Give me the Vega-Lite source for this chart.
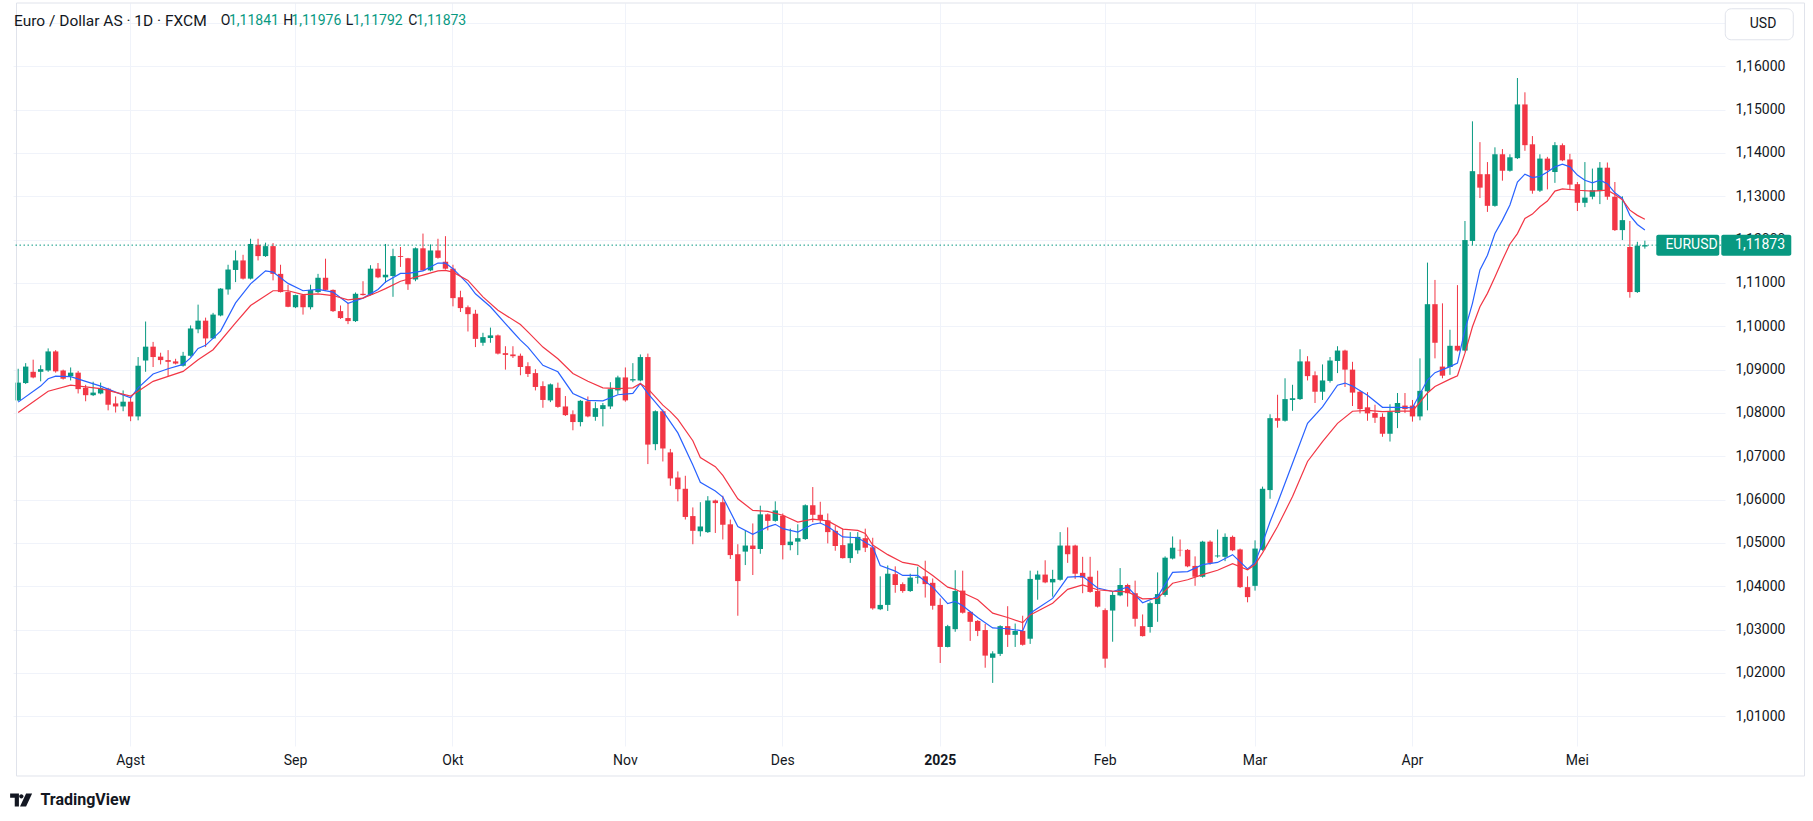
{
  "$schema": "https://vega.github.io/schema/vega-lite/v6.json",
  "width": 1712,
  "height": 743,
  "autosize": "none",
  "padding": {"left": 13, "top": 3, "right": 88, "bottom": 75},
  "background": "#ffffff",
  "config": {
    "font": "Roboto",
    "locale": {"number": {"decimal": ",", "thousands": ".", "grouping": [3], "currency": ["", ""]}},
    "view": {"stroke": null},
    "text": {"font": "Roboto"}
  },
  "datasets": {
    "hdr": [
      {"name": "Euro / Dollar AS · 1D · FXCM", "sym": "EURUSD", "cur": "USD", "brand": "TradingView", "o": 1.11841, "h": 1.11976, "l": 1.11792, "c": 1.11873}
    ],
    "bars": [
      {"d":"2024-07-11","o":1.0829,"h":1.0902,"l":1.0827,"c":1.0870},
      {"d":"2024-07-12","o":1.0869,"h":1.0915,"l":1.0867,"c":1.0907},
      {"d":"2024-07-15","o":1.0895,"h":1.0923,"l":1.0880,"c":1.0882},
      {"d":"2024-07-16","o":1.0895,"h":1.0910,"l":1.0873,"c":1.0901},
      {"d":"2024-07-17","o":1.0898,"h":1.0949,"l":1.0895,"c":1.0942},
      {"d":"2024-07-18","o":1.0942,"h":1.0945,"l":1.0893,"c":1.0896},
      {"d":"2024-07-19","o":1.0898,"h":1.0900,"l":1.0877,"c":1.0879},
      {"d":"2024-07-22","o":1.0885,"h":1.0905,"l":1.0875,"c":1.0893},
      {"d":"2024-07-23","o":1.0893,"h":1.0897,"l":1.0845,"c":1.0855},
      {"d":"2024-07-24","o":1.0858,"h":1.0865,"l":1.0827,"c":1.0841},
      {"d":"2024-07-25","o":1.0841,"h":1.0872,"l":1.0839,"c":1.0847},
      {"d":"2024-07-26","o":1.0845,"h":1.0870,"l":1.0843,"c":1.0857},
      {"d":"2024-07-29","o":1.0856,"h":1.0858,"l":1.0806,"c":1.0819},
      {"d":"2024-07-30","o":1.0822,"h":1.0838,"l":1.0801,"c":1.0815},
      {"d":"2024-07-31","o":1.0815,"h":1.0852,"l":1.0804,"c":1.0826},
      {"d":"2024-08-01","o":1.0826,"h":1.0838,"l":1.0781,"c":1.0792},
      {"d":"2024-08-02","o":1.0792,"h":1.0929,"l":1.0783,"c":1.0909},
      {"d":"2024-08-05","o":1.0921,"h":1.1011,"l":1.0895,"c":1.0953},
      {"d":"2024-08-06","o":1.0953,"h":1.0964,"l":1.0906,"c":1.0929},
      {"d":"2024-08-07","o":1.0930,"h":1.0939,"l":1.0912,"c":1.0922},
      {"d":"2024-08-08","o":1.0922,"h":1.0945,"l":1.0885,"c":1.0918},
      {"d":"2024-08-09","o":1.0919,"h":1.0925,"l":1.0912,"c":1.0914},
      {"d":"2024-08-12","o":1.0909,"h":1.0941,"l":1.0907,"c":1.0932},
      {"d":"2024-08-13","o":1.0932,"h":1.1002,"l":1.0930,"c":1.0995},
      {"d":"2024-08-14","o":1.0993,"h":1.1050,"l":1.0984,"c":1.1013},
      {"d":"2024-08-15","o":1.1013,"h":1.1020,"l":1.0952,"c":1.0972},
      {"d":"2024-08-16","o":1.0972,"h":1.1031,"l":1.0971,"c":1.1027},
      {"d":"2024-08-19","o":1.1025,"h":1.1088,"l":1.1023,"c":1.1087},
      {"d":"2024-08-20","o":1.1085,"h":1.1142,"l":1.1073,"c":1.1131},
      {"d":"2024-08-21","o":1.1130,"h":1.1175,"l":1.1102,"c":1.1152},
      {"d":"2024-08-22","o":1.1152,"h":1.1165,"l":1.1108,"c":1.1110},
      {"d":"2024-08-23","o":1.1110,"h":1.1202,"l":1.1108,"c":1.1190},
      {"d":"2024-08-26","o":1.1188,"h":1.1202,"l":1.1152,"c":1.1162},
      {"d":"2024-08-27","o":1.1162,"h":1.1193,"l":1.1160,"c":1.1185},
      {"d":"2024-08-28","o":1.1185,"h":1.1192,"l":1.1106,"c":1.1121},
      {"d":"2024-08-29","o":1.1121,"h":1.1142,"l":1.1078,"c":1.1079},
      {"d":"2024-08-30","o":1.1079,"h":1.1096,"l":1.1044,"c":1.1045},
      {"d":"2024-09-02","o":1.1044,"h":1.1073,"l":1.1042,"c":1.1072},
      {"d":"2024-09-03","o":1.1072,"h":1.1073,"l":1.1027,"c":1.1044},
      {"d":"2024-09-04","o":1.1044,"h":1.1096,"l":1.1039,"c":1.1084},
      {"d":"2024-09-05","o":1.1079,"h":1.1121,"l":1.1077,"c":1.1112},
      {"d":"2024-09-06","o":1.1112,"h":1.1156,"l":1.1082,"c":1.1084},
      {"d":"2024-09-09","o":1.1084,"h":1.1085,"l":1.1033,"c":1.1035},
      {"d":"2024-09-10","o":1.1035,"h":1.1048,"l":1.1017,"c":1.1019},
      {"d":"2024-09-11","o":1.1019,"h":1.1054,"l":1.1005,"c":1.1012},
      {"d":"2024-09-12","o":1.1012,"h":1.1078,"l":1.1010,"c":1.1075},
      {"d":"2024-09-13","o":1.1075,"h":1.1104,"l":1.1071,"c":1.1072},
      {"d":"2024-09-16","o":1.1073,"h":1.1141,"l":1.1071,"c":1.1133},
      {"d":"2024-09-17","o":1.1133,"h":1.1146,"l":1.1111,"c":1.1113},
      {"d":"2024-09-18","o":1.1113,"h":1.1190,"l":1.1100,"c":1.1119},
      {"d":"2024-09-19","o":1.1116,"h":1.1179,"l":1.1068,"c":1.1162},
      {"d":"2024-09-20","o":1.1162,"h":1.1183,"l":1.1137,"c":1.1160},
      {"d":"2024-09-23","o":1.1157,"h":1.1158,"l":1.1084,"c":1.1097},
      {"d":"2024-09-24","o":1.1108,"h":1.1182,"l":1.1104,"c":1.1180},
      {"d":"2024-09-25","o":1.1180,"h":1.1214,"l":1.1128,"c":1.1129},
      {"d":"2024-09-26","o":1.1129,"h":1.1189,"l":1.1127,"c":1.1175},
      {"d":"2024-09-27","o":1.1175,"h":1.1202,"l":1.1156,"c":1.1158},
      {"d":"2024-09-30","o":1.1149,"h":1.1208,"l":1.1131,"c":1.1133},
      {"d":"2024-10-01","o":1.1133,"h":1.1142,"l":1.1046,"c":1.1065},
      {"d":"2024-10-02","o":1.1067,"h":1.1082,"l":1.1033,"c":1.1042},
      {"d":"2024-10-03","o":1.1044,"h":1.1048,"l":1.0988,"c":1.1028},
      {"d":"2024-10-04","o":1.1029,"h":1.1038,"l":1.0952,"c":1.0971},
      {"d":"2024-10-07","o":1.0962,"h":1.0985,"l":1.0955,"c":1.0975},
      {"d":"2024-10-08","o":1.0973,"h":1.0997,"l":1.0962,"c":1.0979},
      {"d":"2024-10-09","o":1.0979,"h":1.0981,"l":1.0935,"c":1.0937},
      {"d":"2024-10-10","o":1.0938,"h":1.0954,"l":1.0900,"c":1.0934},
      {"d":"2024-10-11","o":1.0935,"h":1.0954,"l":1.0927,"c":1.0931},
      {"d":"2024-10-14","o":1.0932,"h":1.0937,"l":1.0887,"c":1.0906},
      {"d":"2024-10-15","o":1.0908,"h":1.0917,"l":1.0883,"c":1.0890},
      {"d":"2024-10-16","o":1.0892,"h":1.0901,"l":1.0852,"c":1.0860},
      {"d":"2024-10-17","o":1.0862,"h":1.0873,"l":1.0812,"c":1.0830},
      {"d":"2024-10-18","o":1.0829,"h":1.0868,"l":1.0825,"c":1.0866},
      {"d":"2024-10-21","o":1.0858,"h":1.0870,"l":1.0812,"c":1.0814},
      {"d":"2024-10-22","o":1.0815,"h":1.0839,"l":1.0793,"c":1.0795},
      {"d":"2024-10-23","o":1.0797,"h":1.0806,"l":1.0760,"c":1.0779},
      {"d":"2024-10-24","o":1.0779,"h":1.0830,"l":1.0769,"c":1.0828},
      {"d":"2024-10-25","o":1.0827,"h":1.0838,"l":1.0790,"c":1.0792},
      {"d":"2024-10-28","o":1.0791,"h":1.0825,"l":1.0782,"c":1.0811},
      {"d":"2024-10-29","o":1.0809,"h":1.0823,"l":1.0769,"c":1.0818},
      {"d":"2024-10-30","o":1.0815,"h":1.0871,"l":1.0809,"c":1.0855},
      {"d":"2024-10-31","o":1.0852,"h":1.0886,"l":1.0843,"c":1.0882},
      {"d":"2024-11-01","o":1.0882,"h":1.0905,"l":1.0826,"c":1.0829},
      {"d":"2024-11-04","o":1.0875,"h":1.0915,"l":1.0871,"c":1.0878},
      {"d":"2024-11-05","o":1.0875,"h":1.0935,"l":1.0873,"c":1.0929},
      {"d":"2024-11-06","o":1.0929,"h":1.0937,"l":1.0682,"c":1.0727},
      {"d":"2024-11-07","o":1.0728,"h":1.0806,"l":1.0714,"c":1.0804},
      {"d":"2024-11-08","o":1.0804,"h":1.0808,"l":1.0688,"c":1.0718},
      {"d":"2024-11-11","o":1.0709,"h":1.0717,"l":1.0632,"c":1.0649},
      {"d":"2024-11-12","o":1.0651,"h":1.0665,"l":1.0596,"c":1.0624},
      {"d":"2024-11-13","o":1.0625,"h":1.0655,"l":1.0554,"c":1.0560},
      {"d":"2024-11-14","o":1.0562,"h":1.0582,"l":1.0497,"c":1.0528},
      {"d":"2024-11-15","o":1.0527,"h":1.0594,"l":1.0515,"c":1.0538},
      {"d":"2024-11-18","o":1.0525,"h":1.0608,"l":1.0523,"c":1.0598},
      {"d":"2024-11-19","o":1.0598,"h":1.0600,"l":1.0523,"c":1.0592},
      {"d":"2024-11-20","o":1.0594,"h":1.0609,"l":1.0508,"c":1.0542},
      {"d":"2024-11-21","o":1.0543,"h":1.0554,"l":1.0463,"c":1.0472},
      {"d":"2024-11-22","o":1.0474,"h":1.0497,"l":1.0332,"c":1.0412},
      {"d":"2024-11-25","o":1.0480,"h":1.0528,"l":1.0449,"c":1.0494},
      {"d":"2024-11-26","o":1.0494,"h":1.0545,"l":1.0426,"c":1.0486},
      {"d":"2024-11-27","o":1.0486,"h":1.0586,"l":1.0475,"c":1.0566},
      {"d":"2024-11-28","o":1.0566,"h":1.0568,"l":1.0529,"c":1.0551},
      {"d":"2024-11-29","o":1.0551,"h":1.0596,"l":1.0549,"c":1.0575},
      {"d":"2024-12-02","o":1.0563,"h":1.0568,"l":1.0462,"c":1.0495},
      {"d":"2024-12-03","o":1.0495,"h":1.0533,"l":1.0483,"c":1.0503},
      {"d":"2024-12-04","o":1.0503,"h":1.0543,"l":1.0472,"c":1.0511},
      {"d":"2024-12-05","o":1.0509,"h":1.0589,"l":1.0507,"c":1.0587},
      {"d":"2024-12-06","o":1.0587,"h":1.0629,"l":1.0548,"c":1.0565},
      {"d":"2024-12-09","o":1.0565,"h":1.0595,"l":1.0545,"c":1.0553},
      {"d":"2024-12-10","o":1.0552,"h":1.0568,"l":1.0499,"c":1.0525},
      {"d":"2024-12-11","o":1.0528,"h":1.0539,"l":1.0482,"c":1.0493},
      {"d":"2024-12-12","o":1.0495,"h":1.0533,"l":1.0464,"c":1.0465},
      {"d":"2024-12-13","o":1.0465,"h":1.0525,"l":1.0454,"c":1.0499},
      {"d":"2024-12-16","o":1.0483,"h":1.0525,"l":1.0475,"c":1.0514},
      {"d":"2024-12-17","o":1.0511,"h":1.0533,"l":1.0479,"c":1.0489},
      {"d":"2024-12-18","o":1.0490,"h":1.0512,"l":1.0346,"c":1.0349},
      {"d":"2024-12-19","o":1.0347,"h":1.0423,"l":1.0345,"c":1.0357},
      {"d":"2024-12-20","o":1.0357,"h":1.0448,"l":1.0343,"c":1.0429},
      {"d":"2024-12-23","o":1.0428,"h":1.0446,"l":1.0385,"c":1.0403},
      {"d":"2024-12-24","o":1.0405,"h":1.0409,"l":1.0385,"c":1.0389},
      {"d":"2024-12-26","o":1.0389,"h":1.0429,"l":1.0387,"c":1.0420},
      {"d":"2024-12-27","o":1.0420,"h":1.0445,"l":1.0406,"c":1.0422},
      {"d":"2024-12-30","o":1.0423,"h":1.0459,"l":1.0374,"c":1.0405},
      {"d":"2024-12-31","o":1.0408,"h":1.0418,"l":1.0346,"c":1.0355},
      {"d":"2025-01-02","o":1.0357,"h":1.0372,"l":1.0223,"c":1.0260},
      {"d":"2025-01-03","o":1.0260,"h":1.0311,"l":1.0259,"c":1.0308},
      {"d":"2025-01-06","o":1.0301,"h":1.0437,"l":1.0295,"c":1.0389},
      {"d":"2025-01-07","o":1.0390,"h":1.0436,"l":1.0337,"c":1.0339},
      {"d":"2025-01-08","o":1.0341,"h":1.0342,"l":1.0274,"c":1.0318},
      {"d":"2025-01-09","o":1.0320,"h":1.0322,"l":1.0285,"c":1.0297},
      {"d":"2025-01-10","o":1.0299,"h":1.0313,"l":1.0212,"c":1.0240},
      {"d":"2025-01-13","o":1.0235,"h":1.0250,"l":1.0177,"c":1.0245},
      {"d":"2025-01-14","o":1.0244,"h":1.0310,"l":1.0239,"c":1.0308},
      {"d":"2025-01-15","o":1.0308,"h":1.0354,"l":1.0260,"c":1.0288},
      {"d":"2025-01-16","o":1.0288,"h":1.0314,"l":1.0260,"c":1.0297},
      {"d":"2025-01-17","o":1.0297,"h":1.0332,"l":1.0263,"c":1.0265},
      {"d":"2025-01-20","o":1.0279,"h":1.0436,"l":1.0267,"c":1.0417},
      {"d":"2025-01-21","o":1.0415,"h":1.0436,"l":1.0369,"c":1.0427},
      {"d":"2025-01-22","o":1.0427,"h":1.0460,"l":1.0407,"c":1.0409},
      {"d":"2025-01-23","o":1.0409,"h":1.0438,"l":1.0376,"c":1.0417},
      {"d":"2025-01-24","o":1.0415,"h":1.0525,"l":1.0413,"c":1.0494},
      {"d":"2025-01-27","o":1.0494,"h":1.0536,"l":1.0454,"c":1.0474},
      {"d":"2025-01-28","o":1.0494,"h":1.0496,"l":1.0417,"c":1.0429},
      {"d":"2025-01-29","o":1.0431,"h":1.0468,"l":1.0384,"c":1.0420},
      {"d":"2025-01-30","o":1.0422,"h":1.0468,"l":1.0385,"c":1.0387},
      {"d":"2025-01-31","o":1.0389,"h":1.0436,"l":1.0351,"c":1.0353},
      {"d":"2025-02-03","o":1.0345,"h":1.0349,"l":1.0212,"c":1.0233},
      {"d":"2025-02-04","o":1.0344,"h":1.0388,"l":1.0272,"c":1.0380},
      {"d":"2025-02-05","o":1.0379,"h":1.0442,"l":1.0377,"c":1.0403},
      {"d":"2025-02-06","o":1.0403,"h":1.0406,"l":1.0353,"c":1.0384},
      {"d":"2025-02-07","o":1.0384,"h":1.0413,"l":1.0307,"c":1.0325},
      {"d":"2025-02-10","o":1.0308,"h":1.0335,"l":1.0284,"c":1.0285},
      {"d":"2025-02-11","o":1.0306,"h":1.0365,"l":1.0293,"c":1.0361},
      {"d":"2025-02-12","o":1.0359,"h":1.0432,"l":1.0318,"c":1.0382},
      {"d":"2025-02-13","o":1.0380,"h":1.0469,"l":1.0376,"c":1.0466},
      {"d":"2025-02-14","o":1.0464,"h":1.0515,"l":1.0462,"c":1.0489},
      {"d":"2025-02-17","o":1.0484,"h":1.0508,"l":1.0469,"c":1.0483},
      {"d":"2025-02-18","o":1.0484,"h":1.0486,"l":1.0444,"c":1.0446},
      {"d":"2025-02-19","o":1.0447,"h":1.0469,"l":1.0401,"c":1.0422},
      {"d":"2025-02-20","o":1.0422,"h":1.0505,"l":1.0420,"c":1.0503},
      {"d":"2025-02-21","o":1.0503,"h":1.0506,"l":1.0450,"c":1.0454},
      {"d":"2025-02-24","o":1.0469,"h":1.0531,"l":1.0466,"c":1.0471},
      {"d":"2025-02-25","o":1.0468,"h":1.0522,"l":1.0458,"c":1.0514},
      {"d":"2025-02-26","o":1.0514,"h":1.0517,"l":1.0481,"c":1.0483},
      {"d":"2025-02-27","o":1.0485,"h":1.0487,"l":1.0396,"c":1.0398},
      {"d":"2025-02-28","o":1.0398,"h":1.0423,"l":1.0363,"c":1.0375},
      {"d":"2025-03-03","o":1.0401,"h":1.0506,"l":1.0390,"c":1.0487},
      {"d":"2025-03-04","o":1.0484,"h":1.0630,"l":1.0482,"c":1.0625},
      {"d":"2025-03-05","o":1.0622,"h":1.0797,"l":1.0602,"c":1.0788},
      {"d":"2025-03-06","o":1.0788,"h":1.0842,"l":1.0766,"c":1.0782},
      {"d":"2025-03-07","o":1.0782,"h":1.0880,"l":1.0780,"c":1.0832},
      {"d":"2025-03-10","o":1.0830,"h":1.0865,"l":1.0805,"c":1.0834},
      {"d":"2025-03-11","o":1.0832,"h":1.0947,"l":1.0830,"c":1.0919},
      {"d":"2025-03-12","o":1.0919,"h":1.0931,"l":1.0875,"c":1.0885},
      {"d":"2025-03-13","o":1.0887,"h":1.0896,"l":1.0823,"c":1.0849},
      {"d":"2025-03-14","o":1.0849,"h":1.0912,"l":1.0830,"c":1.0875},
      {"d":"2025-03-17","o":1.0874,"h":1.0929,"l":1.0870,"c":1.0921},
      {"d":"2025-03-18","o":1.0920,"h":1.0954,"l":1.0892,"c":1.0944},
      {"d":"2025-03-19","o":1.0944,"h":1.0946,"l":1.0860,"c":1.0900},
      {"d":"2025-03-20","o":1.0900,"h":1.0918,"l":1.0816,"c":1.0847},
      {"d":"2025-03-21","o":1.0849,"h":1.0852,"l":1.0799,"c":1.0809},
      {"d":"2025-03-24","o":1.0813,"h":1.0848,"l":1.0782,"c":1.0799},
      {"d":"2025-03-25","o":1.0800,"h":1.0819,"l":1.0777,"c":1.0789},
      {"d":"2025-03-26","o":1.0791,"h":1.0799,"l":1.0745,"c":1.0752},
      {"d":"2025-03-27","o":1.0752,"h":1.0820,"l":1.0734,"c":1.0802},
      {"d":"2025-03-28","o":1.0800,"h":1.0846,"l":1.0765,"c":1.0823},
      {"d":"2025-03-31","o":1.0817,"h":1.0846,"l":1.0800,"c":1.0809},
      {"d":"2025-04-01","o":1.0817,"h":1.0830,"l":1.0780,"c":1.0792},
      {"d":"2025-04-02","o":1.0792,"h":1.0926,"l":1.0783,"c":1.0851},
      {"d":"2025-04-03","o":1.0850,"h":1.1147,"l":1.0806,"c":1.1051},
      {"d":"2025-04-04","o":1.1051,"h":1.1107,"l":1.0926,"c":1.0962},
      {"d":"2025-04-07","o":1.0907,"h":1.1053,"l":1.0880,"c":1.0886},
      {"d":"2025-04-08","o":1.0906,"h":1.0992,"l":1.0888,"c":1.0955},
      {"d":"2025-04-09","o":1.0955,"h":1.1095,"l":1.0942,"c":1.0944},
      {"d":"2025-04-10","o":1.0944,"h":1.1243,"l":1.0942,"c":1.1199},
      {"d":"2025-04-11","o":1.1197,"h":1.1473,"l":1.1187,"c":1.1358},
      {"d":"2025-04-14","o":1.1351,"h":1.1425,"l":1.1296,"c":1.1320},
      {"d":"2025-04-15","o":1.1351,"h":1.1379,"l":1.1264,"c":1.1278},
      {"d":"2025-04-16","o":1.1278,"h":1.1413,"l":1.1276,"c":1.1397},
      {"d":"2025-04-17","o":1.1397,"h":1.1409,"l":1.1336,"c":1.1359},
      {"d":"2025-04-18","o":1.1359,"h":1.1397,"l":1.1357,"c":1.1390},
      {"d":"2025-04-21","o":1.1388,"h":1.1573,"l":1.1386,"c":1.1512},
      {"d":"2025-04-22","o":1.1512,"h":1.1540,"l":1.1405,"c":1.1418},
      {"d":"2025-04-23","o":1.1420,"h":1.1439,"l":1.1306,"c":1.1313},
      {"d":"2025-04-24","o":1.1313,"h":1.1397,"l":1.1310,"c":1.1387},
      {"d":"2025-04-25","o":1.1387,"h":1.1391,"l":1.1316,"c":1.1360},
      {"d":"2025-04-28","o":1.1356,"h":1.1425,"l":1.1331,"c":1.1418},
      {"d":"2025-04-29","o":1.1418,"h":1.1422,"l":1.1381,"c":1.1383},
      {"d":"2025-04-30","o":1.1385,"h":1.1398,"l":1.1316,"c":1.1327},
      {"d":"2025-05-01","o":1.1328,"h":1.1333,"l":1.1266,"c":1.1285},
      {"d":"2025-05-02","o":1.1285,"h":1.1379,"l":1.1275,"c":1.1297},
      {"d":"2025-05-05","o":1.1299,"h":1.1364,"l":1.1293,"c":1.1314},
      {"d":"2025-05-06","o":1.1312,"h":1.1379,"l":1.1282,"c":1.1366},
      {"d":"2025-05-07","o":1.1366,"h":1.1378,"l":1.1292,"c":1.1299},
      {"d":"2025-05-08","o":1.1299,"h":1.1333,"l":1.1220,"c":1.1222},
      {"d":"2025-05-09","o":1.1222,"h":1.1300,"l":1.1199,"c":1.1245},
      {"d":"2025-05-12","o":1.1183,"h":1.1243,"l":1.1066,"c":1.1079},
      {"d":"2025-05-13","o":1.1079,"h":1.1195,"l":1.1077,"c":1.1186},
      {"d":"2025-05-14","o":1.11841,"h":1.11976,"l":1.11792,"c":1.11873}
    ],
    "ma": [
      {"d":"2024-07-11","s":"f","v":1.0825},{"d":"2024-07-16","s":"f","v":1.0862},{"d":"2024-07-17","s":"f","v":1.0879},
      {"d":"2024-07-18","s":"f","v":1.0885},{"d":"2024-07-22","s":"f","v":1.0884},{"d":"2024-07-24","s":"f","v":1.0873},
      {"d":"2024-07-26","s":"f","v":1.0862},{"d":"2024-07-30","s":"f","v":1.0848},{"d":"2024-08-01","s":"f","v":1.0835},
      {"d":"2024-08-02","s":"f","v":1.0858},{"d":"2024-08-06","s":"f","v":1.0890},{"d":"2024-08-08","s":"f","v":1.0902},
      {"d":"2024-08-12","s":"f","v":1.0912},{"d":"2024-08-13","s":"f","v":1.0927},{"d":"2024-08-14","s":"f","v":1.0949},
      {"d":"2024-08-15","s":"f","v":1.0956},{"d":"2024-08-19","s":"f","v":1.0989},{"d":"2024-08-21","s":"f","v":1.1054},
      {"d":"2024-08-23","s":"f","v":1.1098},{"d":"2024-08-27","s":"f","v":1.1128},{"d":"2024-08-28","s":"f","v":1.1125},
      {"d":"2024-08-30","s":"f","v":1.1099},{"d":"2024-09-03","s":"f","v":1.1082},{"d":"2024-09-05","s":"f","v":1.1085},
      {"d":"2024-09-09","s":"f","v":1.1079},{"d":"2024-09-11","s":"f","v":1.1053},{"d":"2024-09-13","s":"f","v":1.1065},
      {"d":"2024-09-17","s":"f","v":1.1085},{"d":"2024-09-18","s":"f","v":1.1102},{"d":"2024-09-20","s":"f","v":1.1122},
      {"d":"2024-09-23","s":"f","v":1.1122},{"d":"2024-09-25","s":"f","v":1.1128},{"d":"2024-09-27","s":"f","v":1.1146},
      {"d":"2024-09-30","s":"f","v":1.1146},{"d":"2024-10-01","s":"f","v":1.1133},{"d":"2024-10-03","s":"f","v":1.1098},
      {"d":"2024-10-04","s":"f","v":1.1075},{"d":"2024-10-08","s":"f","v":1.1045},{"d":"2024-10-10","s":"f","v":1.1006},
      {"d":"2024-10-14","s":"f","v":1.0968},{"d":"2024-10-15","s":"f","v":1.0952},{"d":"2024-10-17","s":"f","v":1.0910},
      {"d":"2024-10-21","s":"f","v":1.0895},{"d":"2024-10-23","s":"f","v":1.0845},{"d":"2024-10-25","s":"f","v":1.0829},
      {"d":"2024-10-29","s":"f","v":1.0828},{"d":"2024-10-31","s":"f","v":1.0842},{"d":"2024-11-04","s":"f","v":1.0845},
      {"d":"2024-11-05","s":"f","v":1.0868},{"d":"2024-11-06","s":"f","v":1.0845},{"d":"2024-11-08","s":"f","v":1.0804},
      {"d":"2024-11-12","s":"f","v":1.0754},{"d":"2024-11-14","s":"f","v":1.0680},{"d":"2024-11-15","s":"f","v":1.0640},
      {"d":"2024-11-19","s":"f","v":1.0620},{"d":"2024-11-20","s":"f","v":1.0606},{"d":"2024-11-22","s":"f","v":1.0538},
      {"d":"2024-11-26","s":"f","v":1.0520},{"d":"2024-11-28","s":"f","v":1.0537},{"d":"2024-11-29","s":"f","v":1.0543},
      {"d":"2024-12-02","s":"f","v":1.0533},{"d":"2024-12-04","s":"f","v":1.0525},{"d":"2024-12-06","s":"f","v":1.0543},
      {"d":"2024-12-09","s":"f","v":1.0546},{"d":"2024-12-10","s":"f","v":1.0538},{"d":"2024-12-12","s":"f","v":1.0514},
      {"d":"2024-12-16","s":"f","v":1.0512},{"d":"2024-12-18","s":"f","v":1.0491},{"d":"2024-12-19","s":"f","v":1.0448},
      {"d":"2024-12-23","s":"f","v":1.0435},{"d":"2024-12-24","s":"f","v":1.0425},{"d":"2024-12-27","s":"f","v":1.0425},
      {"d":"2024-12-31","s":"f","v":1.0398},{"d":"2025-01-03","s":"f","v":1.0360},{"d":"2025-01-06","s":"f","v":1.0365},
      {"d":"2025-01-07","s":"f","v":1.0355},{"d":"2025-01-09","s":"f","v":1.0328},{"d":"2025-01-13","s":"f","v":1.0304},
      {"d":"2025-01-15","s":"f","v":1.0302},{"d":"2025-01-17","s":"f","v":1.0297},{"d":"2025-01-20","s":"f","v":1.0338},
      {"d":"2025-01-23","s":"f","v":1.0372},{"d":"2025-01-27","s":"f","v":1.0421},{"d":"2025-01-29","s":"f","v":1.0423},
      {"d":"2025-01-31","s":"f","v":1.0396},{"d":"2025-02-04","s":"f","v":1.0388},{"d":"2025-02-06","s":"f","v":1.0398},
      {"d":"2025-02-10","s":"f","v":1.0362},{"d":"2025-02-12","s":"f","v":1.0376},{"d":"2025-02-14","s":"f","v":1.0432},
      {"d":"2025-02-18","s":"f","v":1.0434},{"d":"2025-02-20","s":"f","v":1.0450},{"d":"2025-02-24","s":"f","v":1.0455},
      {"d":"2025-02-26","s":"f","v":1.0473},{"d":"2025-02-28","s":"f","v":1.0440},{"d":"2025-03-03","s":"f","v":1.0455},
      {"d":"2025-03-04","s":"f","v":1.0500},{"d":"2025-03-05","s":"f","v":1.0549},{"d":"2025-03-06","s":"f","v":1.0592},
      {"d":"2025-03-10","s":"f","v":1.0684},{"d":"2025-03-12","s":"f","v":1.0776},{"d":"2025-03-14","s":"f","v":1.0814},
      {"d":"2025-03-18","s":"f","v":1.0864},{"d":"2025-03-19","s":"f","v":1.0869},{"d":"2025-03-20","s":"f","v":1.0862},
      {"d":"2025-03-24","s":"f","v":1.0841},{"d":"2025-03-26","s":"f","v":1.0813},{"d":"2025-03-28","s":"f","v":1.0813},
      {"d":"2025-04-01","s":"f","v":1.0812},{"d":"2025-04-03","s":"f","v":1.0876},{"d":"2025-04-04","s":"f","v":1.0893},
      {"d":"2025-04-08","s":"f","v":1.0907},{"d":"2025-04-09","s":"f","v":1.0915},{"d":"2025-04-10","s":"f","v":1.0992},
      {"d":"2025-04-11","s":"f","v":1.1053},{"d":"2025-04-14","s":"f","v":1.1130},{"d":"2025-04-15","s":"f","v":1.1164},
      {"d":"2025-04-16","s":"f","v":1.1214},{"d":"2025-04-17","s":"f","v":1.1245},{"d":"2025-04-18","s":"f","v":1.1280},
      {"d":"2025-04-21","s":"f","v":1.1333},{"d":"2025-04-22","s":"f","v":1.1351},{"d":"2025-04-23","s":"f","v":1.1343},
      {"d":"2025-04-24","s":"f","v":1.1346},{"d":"2025-04-25","s":"f","v":1.1356},{"d":"2025-04-28","s":"f","v":1.1368},
      {"d":"2025-04-29","s":"f","v":1.1374},{"d":"2025-04-30","s":"f","v":1.1368},{"d":"2025-05-01","s":"f","v":1.1349},
      {"d":"2025-05-02","s":"f","v":1.1337},{"d":"2025-05-05","s":"f","v":1.1331},{"d":"2025-05-06","s":"f","v":1.1337},
      {"d":"2025-05-07","s":"f","v":1.1329},{"d":"2025-05-08","s":"f","v":1.1308},{"d":"2025-05-09","s":"f","v":1.1295},
      {"d":"2025-05-12","s":"f","v":1.1256},{"d":"2025-05-13","s":"f","v":1.1235},{"d":"2025-05-14","s":"f","v":1.1222},
      {"d":"2024-07-11","s":"s","v":1.0801},{"d":"2024-07-17","s":"s","v":1.0850},{"d":"2024-07-22","s":"s","v":1.0864},
      {"d":"2024-07-26","s":"s","v":1.0856},{"d":"2024-08-01","s":"s","v":1.0839},{"d":"2024-08-02","s":"s","v":1.0850},
      {"d":"2024-08-06","s":"s","v":1.0873},{"d":"2024-08-12","s":"s","v":1.0896},{"d":"2024-08-14","s":"s","v":1.0923},
      {"d":"2024-08-16","s":"s","v":1.0946},{"d":"2024-08-21","s":"s","v":1.1008},{"d":"2024-08-23","s":"s","v":1.1048},
      {"d":"2024-08-28","s":"s","v":1.1082},{"d":"2024-08-30","s":"s","v":1.1082},{"d":"2024-09-03","s":"s","v":1.1073},
      {"d":"2024-09-05","s":"s","v":1.1075},{"d":"2024-09-09","s":"s","v":1.1071},{"d":"2024-09-11","s":"s","v":1.1061},
      {"d":"2024-09-13","s":"s","v":1.1065},{"d":"2024-09-17","s":"s","v":1.1079},{"d":"2024-09-18","s":"s","v":1.1087},
      {"d":"2024-09-20","s":"s","v":1.1104},{"d":"2024-09-25","s":"s","v":1.1118},{"d":"2024-09-27","s":"s","v":1.1128},
      {"d":"2024-09-30","s":"s","v":1.1129},{"d":"2024-10-01","s":"s","v":1.1125},{"d":"2024-10-03","s":"s","v":1.1106},
      {"d":"2024-10-07","s":"s","v":1.1068},{"d":"2024-10-09","s":"s","v":1.1037},{"d":"2024-10-14","s":"s","v":1.1004},
      {"d":"2024-10-15","s":"s","v":1.0987},{"d":"2024-10-17","s":"s","v":1.0952},{"d":"2024-10-21","s":"s","v":1.0925},
      {"d":"2024-10-23","s":"s","v":1.0891},{"d":"2024-10-25","s":"s","v":1.0873},{"d":"2024-10-29","s":"s","v":1.0858},
      {"d":"2024-10-31","s":"s","v":1.0856},{"d":"2024-11-04","s":"s","v":1.0858},{"d":"2024-11-05","s":"s","v":1.0868},
      {"d":"2024-11-06","s":"s","v":1.0856},{"d":"2024-11-08","s":"s","v":1.0818},{"d":"2024-11-11","s":"s","v":1.0803},
      {"d":"2024-11-12","s":"s","v":1.0785},{"d":"2024-11-14","s":"s","v":1.0736},{"d":"2024-11-15","s":"s","v":1.0697},
      {"d":"2024-11-19","s":"s","v":1.0676},{"d":"2024-11-20","s":"s","v":1.0656},{"d":"2024-11-22","s":"s","v":1.0602},
      {"d":"2024-11-26","s":"s","v":1.0575},{"d":"2024-11-28","s":"s","v":1.0573},{"d":"2024-12-02","s":"s","v":1.0564},
      {"d":"2024-12-04","s":"s","v":1.0548},{"d":"2024-12-06","s":"s","v":1.0555},{"d":"2024-12-10","s":"s","v":1.0551},
      {"d":"2024-12-12","s":"s","v":1.0532},{"d":"2024-12-16","s":"s","v":1.0529},{"d":"2024-12-17","s":"s","v":1.0522},
      {"d":"2024-12-18","s":"s","v":1.0495},{"d":"2024-12-20","s":"s","v":1.0473},{"d":"2024-12-24","s":"s","v":1.0455},
      {"d":"2024-12-27","s":"s","v":1.0449},{"d":"2024-12-31","s":"s","v":1.0425},{"d":"2025-01-03","s":"s","v":1.0398},
      {"d":"2025-01-06","s":"s","v":1.0393},{"d":"2025-01-09","s":"s","v":1.0369},{"d":"2025-01-13","s":"s","v":1.0338},
      {"d":"2025-01-15","s":"s","v":1.0328},{"d":"2025-01-17","s":"s","v":1.0316},{"d":"2025-01-20","s":"s","v":1.0334},
      {"d":"2025-01-23","s":"s","v":1.0361},{"d":"2025-01-27","s":"s","v":1.0393},{"d":"2025-01-29","s":"s","v":1.0403},
      {"d":"2025-01-31","s":"s","v":1.0392},{"d":"2025-02-04","s":"s","v":1.0389},{"d":"2025-02-06","s":"s","v":1.0387},
      {"d":"2025-02-10","s":"s","v":1.0371},{"d":"2025-02-12","s":"s","v":1.0372},{"d":"2025-02-14","s":"s","v":1.0407},
      {"d":"2025-02-18","s":"s","v":1.0415},{"d":"2025-02-20","s":"s","v":1.0427},{"d":"2025-02-24","s":"s","v":1.0437},
      {"d":"2025-02-26","s":"s","v":1.0452},{"d":"2025-02-28","s":"s","v":1.0438},{"d":"2025-03-03","s":"s","v":1.0450},
      {"d":"2025-03-04","s":"s","v":1.0477},{"d":"2025-03-06","s":"s","v":1.0538},{"d":"2025-03-10","s":"s","v":1.0607},
      {"d":"2025-03-12","s":"s","v":1.0688},{"d":"2025-03-14","s":"s","v":1.0734},{"d":"2025-03-18","s":"s","v":1.0776},
      {"d":"2025-03-20","s":"s","v":1.0804},{"d":"2025-03-24","s":"s","v":1.0806},{"d":"2025-03-26","s":"s","v":1.0803},
      {"d":"2025-03-28","s":"s","v":1.0804},{"d":"2025-04-01","s":"s","v":1.0804},{"d":"2025-04-03","s":"s","v":1.0846},
      {"d":"2025-04-04","s":"s","v":1.0861},{"d":"2025-04-08","s":"s","v":1.0878},{"d":"2025-04-09","s":"s","v":1.0886},
      {"d":"2025-04-10","s":"s","v":1.0938},{"d":"2025-04-11","s":"s","v":1.0999},{"d":"2025-04-14","s":"s","v":1.1045},
      {"d":"2025-04-15","s":"s","v":1.1076},{"d":"2025-04-16","s":"s","v":1.1114},{"d":"2025-04-17","s":"s","v":1.1153},
      {"d":"2025-04-18","s":"s","v":1.1190},{"d":"2025-04-21","s":"s","v":1.1214},{"d":"2025-04-22","s":"s","v":1.1249},
      {"d":"2025-04-23","s":"s","v":1.1259},{"d":"2025-04-24","s":"s","v":1.1276},{"d":"2025-04-25","s":"s","v":1.1289},
      {"d":"2025-04-28","s":"s","v":1.1312},{"d":"2025-04-29","s":"s","v":1.1317},{"d":"2025-05-01","s":"s","v":1.1314},
      {"d":"2025-05-05","s":"s","v":1.1312},{"d":"2025-05-07","s":"s","v":1.1314},{"d":"2025-05-08","s":"s","v":1.1304},
      {"d":"2025-05-09","s":"s","v":1.1292},{"d":"2025-05-12","s":"s","v":1.1268},{"d":"2025-05-13","s":"s","v":1.1256},
      {"d":"2025-05-14","s":"s","v":1.1247}
    ]
  },
  "layer": [
    {
      "data": {"name": "bars"},
      "mark": {"type": "rule", "strokeWidth": 1},
      "encoding": {
        "x": {
          "field": "d", "type": "ordinal", "title": null,
          "scale": {
            "paddingInner": 0, "paddingOuter": 0.19,
            "domain": ["2024-07-11","2024-07-12","2024-07-15","2024-07-16","2024-07-17","2024-07-18","2024-07-19","2024-07-22","2024-07-23","2024-07-24","2024-07-25","2024-07-26","2024-07-29","2024-07-30","2024-07-31",
              "2024-08-01","2024-08-02","2024-08-05","2024-08-06","2024-08-07","2024-08-08","2024-08-09","2024-08-12","2024-08-13","2024-08-14","2024-08-15","2024-08-16","2024-08-19","2024-08-20","2024-08-21","2024-08-22","2024-08-23","2024-08-26","2024-08-27","2024-08-28","2024-08-29","2024-08-30",
              "2024-09-02","2024-09-03","2024-09-04","2024-09-05","2024-09-06","2024-09-09","2024-09-10","2024-09-11","2024-09-12","2024-09-13","2024-09-16","2024-09-17","2024-09-18","2024-09-19","2024-09-20","2024-09-23","2024-09-24","2024-09-25","2024-09-26","2024-09-27","2024-09-30",
              "2024-10-01","2024-10-02","2024-10-03","2024-10-04","2024-10-07","2024-10-08","2024-10-09","2024-10-10","2024-10-11","2024-10-14","2024-10-15","2024-10-16","2024-10-17","2024-10-18","2024-10-21","2024-10-22","2024-10-23","2024-10-24","2024-10-25","2024-10-28","2024-10-29","2024-10-30","2024-10-31",
              "2024-11-01","2024-11-04","2024-11-05","2024-11-06","2024-11-07","2024-11-08","2024-11-11","2024-11-12","2024-11-13","2024-11-14","2024-11-15","2024-11-18","2024-11-19","2024-11-20","2024-11-21","2024-11-22","2024-11-25","2024-11-26","2024-11-27","2024-11-28","2024-11-29",
              "2024-12-02","2024-12-03","2024-12-04","2024-12-05","2024-12-06","2024-12-09","2024-12-10","2024-12-11","2024-12-12","2024-12-13","2024-12-16","2024-12-17","2024-12-18","2024-12-19","2024-12-20","2024-12-23","2024-12-24","2024-12-26","2024-12-27","2024-12-30","2024-12-31",
              "2025-01-02","2025-01-03","2025-01-06","2025-01-07","2025-01-08","2025-01-09","2025-01-10","2025-01-13","2025-01-14","2025-01-15","2025-01-16","2025-01-17","2025-01-20","2025-01-21","2025-01-22","2025-01-23","2025-01-24","2025-01-27","2025-01-28","2025-01-29","2025-01-30","2025-01-31",
              "2025-02-03","2025-02-04","2025-02-05","2025-02-06","2025-02-07","2025-02-10","2025-02-11","2025-02-12","2025-02-13","2025-02-14","2025-02-17","2025-02-18","2025-02-19","2025-02-20","2025-02-21","2025-02-24","2025-02-25","2025-02-26","2025-02-27","2025-02-28",
              "2025-03-03","2025-03-04","2025-03-05","2025-03-06","2025-03-07","2025-03-10","2025-03-11","2025-03-12","2025-03-13","2025-03-14","2025-03-17","2025-03-18","2025-03-19","2025-03-20","2025-03-21","2025-03-24","2025-03-25","2025-03-26","2025-03-27","2025-03-28","2025-03-31",
              "2025-04-01","2025-04-02","2025-04-03","2025-04-04","2025-04-07","2025-04-08","2025-04-09","2025-04-10","2025-04-11","2025-04-14","2025-04-15","2025-04-16","2025-04-17","2025-04-18","2025-04-21","2025-04-22","2025-04-23","2025-04-24","2025-04-25","2025-04-28","2025-04-29","2025-04-30",
              "2025-05-01","2025-05-02","2025-05-05","2025-05-06","2025-05-07","2025-05-08","2025-05-09","2025-05-12","2025-05-13","2025-05-14",
              "2025-05-15","2025-05-16","2025-05-19","2025-05-20","2025-05-21","2025-05-22","2025-05-23","2025-05-26","2025-05-27","2025-05-28"]
          },
          "axis": {
            "title": null,
            "values": ["2024-08-01","2024-09-02","2024-10-01","2024-11-01","2024-12-02","2025-01-02","2025-02-03","2025-03-03","2025-04-01","2025-05-01"],
            "labelExpr": "['Agst','Sep','Okt','Nov','Des','2025','Feb','Mar','Apr','Mei'][indexof(['2024-08-01','2024-09-02','2024-10-01','2024-11-01','2024-12-02','2025-01-02','2025-02-03','2025-03-03','2025-04-01','2025-05-01'], datum.value)]",
            "labelAngle": 0,
            "labelFontSize": 14,
            "labelColor": "#131722",
            "labelPadding": 7,
            "labelFontWeight": {"condition": {"test": "datum.value == '2025-01-02'", "value": "bold"}, "value": "normal"},
            "ticks": false,
            "domain": false,
            "grid": true,
            "gridColor": "#f0f3fa",
            "bandPosition": 0.5
          }
        },
        "y": {
          "field": "l", "type": "quantitative", "title": null,
          "scale": {"domain": [1.00314, 1.17461], "nice": false, "zero": false},
          "axis": {
            "title": null,
            "orient": "right",
            "values": [1.01, 1.02, 1.03, 1.04, 1.05, 1.06, 1.07, 1.08, 1.09, 1.1, 1.11, 1.12, 1.13, 1.14, 1.15, 1.16, 1.17],
            "format": ".5f",
            "labelExpr": "datum.value > 1.165 ? '' : datum.label",
            "labelFontSize": 14,
            "labelColor": "#131722",
            "labelPadding": 10,
            "ticks": false,
            "domain": false,
            "grid": true,
            "gridColor": "#f0f3fa"
          }
        },
        "y2": {"field": "h"},
        "color": {"condition": {"test": "datum.c >= datum.o", "value": "#089981"}, "value": "#f23645"}
      }
    },
    {
      "data": {"name": "bars"},
      "mark": {"type": "bar", "width": {"band": 0.72}},
      "encoding": {
        "x": {"field": "d", "type": "ordinal", "title": null},
        "y": {"field": "o", "type": "quantitative", "title": null},
        "y2": {"field": "c"},
        "color": {"condition": {"test": "datum.c >= datum.o", "value": "#089981"}, "value": "#f23645"}
      }
    },
    {
      "data": {"name": "ma"},
      "mark": {"type": "line", "strokeWidth": 1.2},
      "encoding": {
        "x": {"field": "d", "type": "ordinal", "title": null},
        "y": {"field": "v", "type": "quantitative", "title": null},
        "color": {"field": "s", "type": "nominal", "scale": {"domain": ["f", "s"], "range": ["#2962ff", "#f23645"]}, "legend": null}
      }
    },
    {
      "data": {"name": "hdr"},
      "mark": {"type": "rect", "fillOpacity": 0, "stroke": "#e0e3eb", "strokeWidth": 1, "xOffset": -1.7, "x2Offset": 84.7},
      "encoding": {
        "x": {"datum": "2024-07-11", "type": "ordinal"},
        "x2": {"datum": "2025-05-28"},
        "y": {"datum": 1.17461, "type": "quantitative"},
        "y2": {"datum": 0.99622}
      }
    },
    {
      "data": {"name": "hdr"},
      "mark": {"type": "rule", "color": "#089981", "strokeWidth": 1, "strokeDash": [1.5, 2.5]},
      "encoding": {"y": {"field": "c", "type": "quantitative", "title": null}}
    },
    {
      "data": {"name": "hdr"},
      "mark": {"type": "rect", "width": 63, "height": 21, "color": "#089981", "cornerRadius": 2},
      "encoding": {
        "x": {"datum": "2025-05-28", "type": "ordinal"},
        "xOffset": {"value": -28.3},
        "y": {"field": "c", "type": "quantitative", "title": null}
      }
    },
    {
      "data": {"name": "hdr"},
      "mark": {"type": "rect", "width": 70, "height": 21, "color": "#089981", "cornerRadius": 2},
      "encoding": {
        "x": {"datum": "2025-05-28", "type": "ordinal"},
        "xOffset": {"value": 40.2},
        "y": {"field": "c", "type": "quantitative", "title": null}
      }
    },
    {
      "data": {"name": "hdr"},
      "mark": {"type": "text", "color": "#ffffff", "fontSize": 14, "align": "center", "baseline": "middle", "dx": -28.3},
      "encoding": {
        "x": {"datum": "2025-05-28", "type": "ordinal"},
        "y": {"field": "c", "type": "quantitative", "title": null},
        "text": {"field": "sym"}
      }
    },
    {
      "data": {"name": "hdr"},
      "mark": {"type": "text", "color": "#ffffff", "fontSize": 14, "align": "center", "baseline": "middle", "dx": 40.2},
      "encoding": {
        "x": {"datum": "2025-05-28", "type": "ordinal"},
        "y": {"field": "c", "type": "quantitative", "title": null},
        "text": {"field": "c", "type": "quantitative", "format": ".5f"}
      }
    },
    {
      "data": {"name": "hdr"},
      "mark": {"type": "rect", "width": 68, "height": 31, "fill": "#ffffff", "stroke": "#e0e3eb", "strokeWidth": 1, "cornerRadius": 6},
      "encoding": {
        "x": {"datum": "2025-05-28", "type": "ordinal"},
        "xOffset": {"value": 43.2},
        "y": {"datum": 1.1697, "type": "quantitative"}
      }
    },
    {
      "data": {"name": "hdr"},
      "mark": {"type": "text", "color": "#131722", "fontSize": 14, "align": "center", "baseline": "middle", "dx": 43.2},
      "encoding": {
        "x": {"datum": "2025-05-28", "type": "ordinal"},
        "y": {"datum": 1.1697, "type": "quantitative"},
        "text": {"field": "cur"}
      }
    },
    {
      "data": {"name": "hdr"},
      "mark": {"type": "text", "color": "#131722", "fontSize": 15.5, "align": "left", "baseline": "middle", "dx": -4.2},
      "encoding": {
        "x": {"datum": "2024-07-11", "type": "ordinal"},
        "y": {"datum": 1.17046, "type": "quantitative"},
        "text": {"field": "name"}
      }
    },
    {
      "data": {"name": "hdr"},
      "mark": {"type": "text", "color": "#131722", "fontSize": 14, "align": "left", "baseline": "middle", "dx": 202.7, "text": "O"},
      "encoding": {"x": {"datum": "2024-07-11", "type": "ordinal"}, "y": {"datum": 1.17046, "type": "quantitative"}}
    },
    {
      "data": {"name": "hdr"},
      "mark": {"type": "text", "color": "#089981", "fontSize": 14, "align": "left", "baseline": "middle", "dx": 210.8},
      "encoding": {"x": {"datum": "2024-07-11", "type": "ordinal"}, "y": {"datum": 1.17046, "type": "quantitative"}, "text": {"field": "o", "type": "quantitative", "format": ".5f"}}
    },
    {
      "data": {"name": "hdr"},
      "mark": {"type": "text", "color": "#131722", "fontSize": 14, "align": "left", "baseline": "middle", "dx": 265.1, "text": "H"},
      "encoding": {"x": {"datum": "2024-07-11", "type": "ordinal"}, "y": {"datum": 1.17046, "type": "quantitative"}}
    },
    {
      "data": {"name": "hdr"},
      "mark": {"type": "text", "color": "#089981", "fontSize": 14, "align": "left", "baseline": "middle", "dx": 273.2},
      "encoding": {"x": {"datum": "2024-07-11", "type": "ordinal"}, "y": {"datum": 1.17046, "type": "quantitative"}, "text": {"field": "h", "type": "quantitative", "format": ".5f"}}
    },
    {
      "data": {"name": "hdr"},
      "mark": {"type": "text", "color": "#131722", "fontSize": 14, "align": "left", "baseline": "middle", "dx": 327.5, "text": "L"},
      "encoding": {"x": {"datum": "2024-07-11", "type": "ordinal"}, "y": {"datum": 1.17046, "type": "quantitative"}}
    },
    {
      "data": {"name": "hdr"},
      "mark": {"type": "text", "color": "#089981", "fontSize": 14, "align": "left", "baseline": "middle", "dx": 334.5},
      "encoding": {"x": {"datum": "2024-07-11", "type": "ordinal"}, "y": {"datum": 1.17046, "type": "quantitative"}, "text": {"field": "l", "type": "quantitative", "format": ".5f"}}
    },
    {
      "data": {"name": "hdr"},
      "mark": {"type": "text", "color": "#131722", "fontSize": 14, "align": "left", "baseline": "middle", "dx": 390, "text": "C"},
      "encoding": {"x": {"datum": "2024-07-11", "type": "ordinal"}, "y": {"datum": 1.17046, "type": "quantitative"}}
    },
    {
      "data": {"name": "hdr"},
      "mark": {"type": "text", "color": "#089981", "fontSize": 14, "align": "left", "baseline": "middle", "dx": 398.1},
      "encoding": {"x": {"datum": "2024-07-11", "type": "ordinal"}, "y": {"datum": 1.17046, "type": "quantitative"}, "text": {"field": "c", "type": "quantitative", "format": ".5f"}}
    },
    {
      "data": {"name": "hdr"},
      "mark": {"type": "point", "filled": true, "color": "#131722", "opacity": 1, "size": 484, "strokeWidth": 0,
        "shape": "M-1,-0.59H-0.2V0.59H-0.58V-0.2H-1Z M-0.18,-0.33A0.2,0.2 0 1,0 0.22,-0.33A0.2,0.2 0 1,0 -0.18,-0.33Z M0.45,-0.59H1L0.45,0.59H-0.1Z"},
      "encoding": {
        "x": {"datum": "2024-07-11", "type": "ordinal"},
        "xOffset": {"value": 6.7},
        "y": {"datum": 0.99068, "type": "quantitative"}
      }
    },
    {
      "data": {"name": "hdr"},
      "mark": {"type": "text", "color": "#131722", "fontSize": 16, "fontWeight": "bold", "align": "left", "baseline": "middle", "dx": 22.3},
      "encoding": {
        "x": {"datum": "2024-07-11", "type": "ordinal"},
        "y": {"datum": 0.99068, "type": "quantitative"},
        "text": {"field": "brand"}
      }
    }
  ]
}
